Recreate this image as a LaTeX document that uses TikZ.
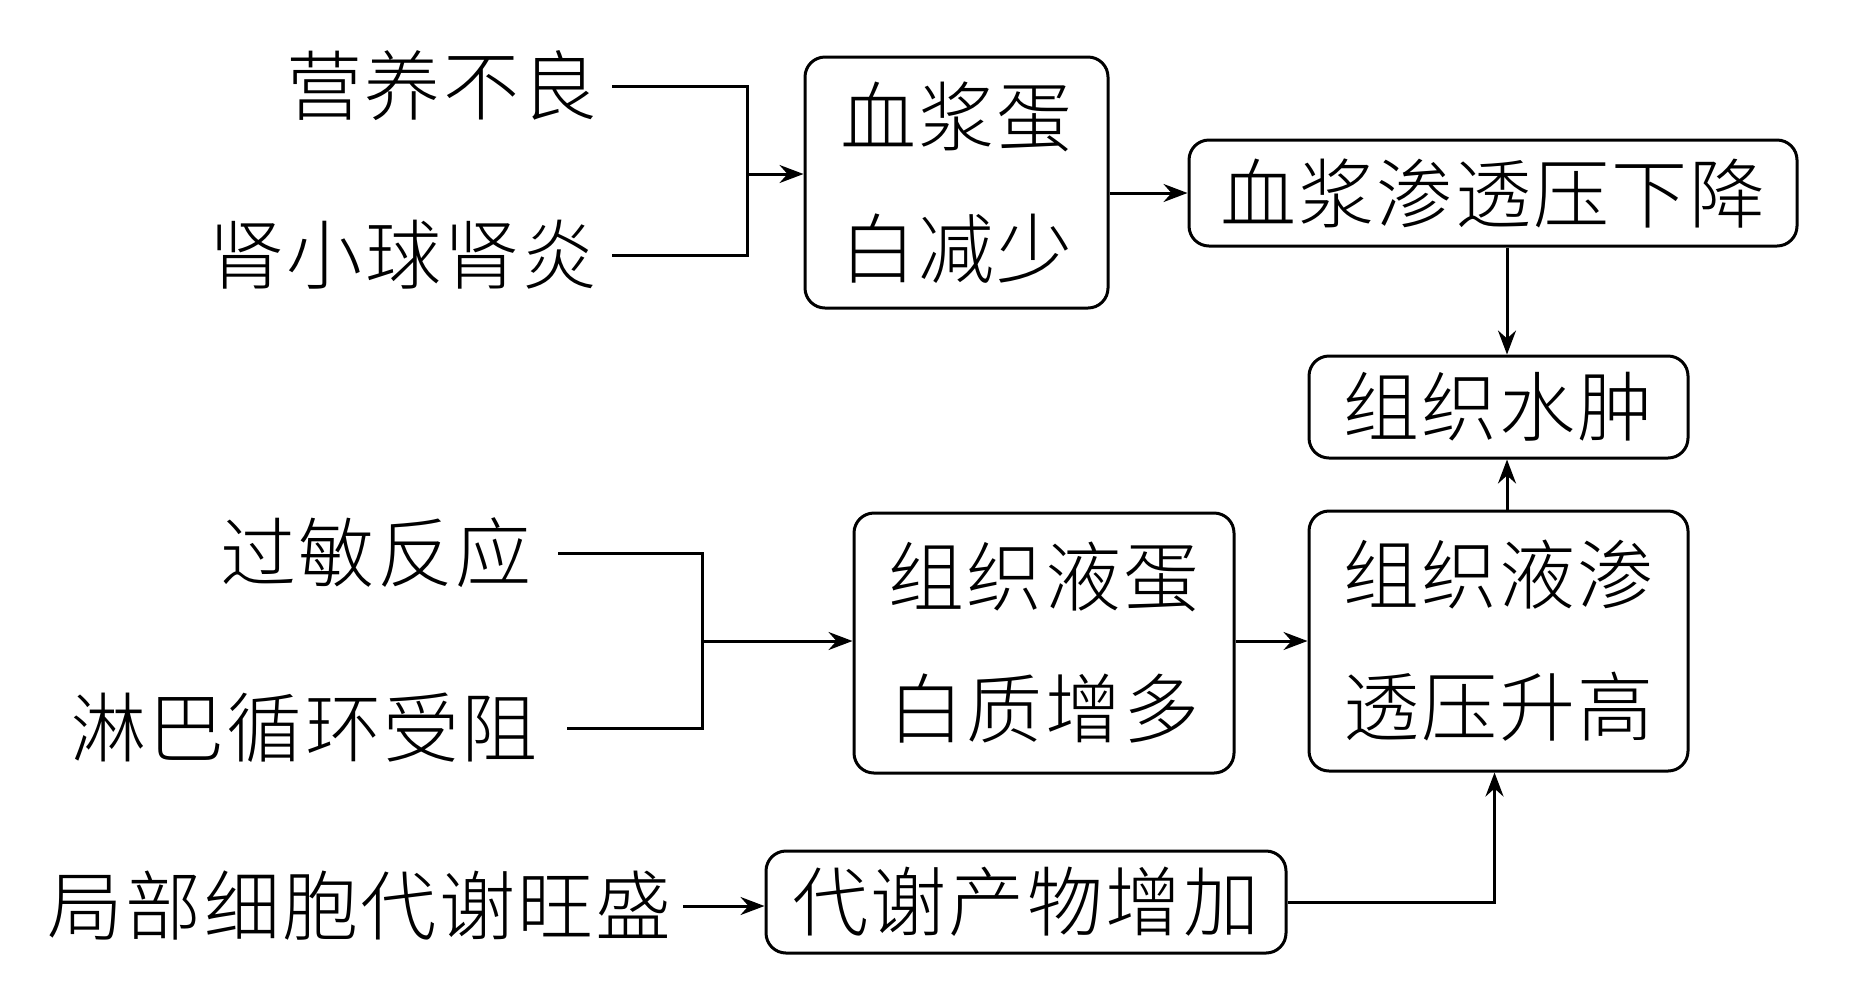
\documentclass[tikz,border=0pt]{standalone}
\usepackage{fontspec}
\setmainfont{Noto Sans CJK SC}[UprightFont=* Light]
\usetikzlibrary{arrows.meta}
\begin{document}
\begin{tikzpicture}[x=0.5pt,y=-0.5pt,
  box/.style={draw,line width=1.5pt,rounded corners=10pt,inner sep=0pt,align=center,font=\fontsize{38}{66}\selectfont\addfontfeature{LetterSpace=3}},
  lbl/.style={inner sep=0pt,anchor=east,font=\fontsize{38}{47}\selectfont\addfontfeature{LetterSpace=3}},
  conn/.style={line width=1.5pt},
  arr/.style={conn,-{Stealth[length=12pt,width=9pt,inset=4pt]}}]
\useasboundingbox[fill=white] (0,0) rectangle (1862,987);
% boxes
\node[box,minimum width=151.5pt,minimum height=125.5pt] (b1) at (956.5,182.5) {血浆蛋\\白减少};
\node[box,minimum width=304pt,minimum height=53pt] (b2) at (1493,193) {血浆渗透压下降};
\node[box,minimum width=189.5pt,minimum height=51pt] (b3) at (1498.5,407) {组织水肿};
\node[box,minimum width=189.5pt,minimum height=130pt] (b4) at (1498.5,641) {组织液渗\\透压升高};
\node[box,minimum width=190pt,minimum height=130pt] (b5) at (1044,643) {组织液蛋\\白质增多};
\node[box,minimum width=260pt,minimum height=51pt] (b6) at (1026,902) {代谢产物增加};
% labels
\node[lbl] (t1) at (598,86) {营养不良};
\node[lbl] (t2) at (598,255) {肾小球肾炎};
\node[lbl] (t3) at (532,553) {过敏反应};
\node[lbl] (t4) at (538,728) {淋巴循环受阻};
\node[lbl] (t5) at (672,906) {局部细胞代谢旺盛};
% junctions
\coordinate (j1) at (747,174);
\coordinate (j2) at (702,641);
\coordinate (ax) at (1507,0);
% connectors
\draw[conn] ([xshift=7pt]t1.east) -| (j1) |- ([xshift=7pt]t2.east);
\draw[arr] (j1) -- (j1 -| b1.west);
\draw[arr] (b1.east |- b2.west) -- (b2.west);
\draw[arr] (b2.south -| ax) -- (b3.north -| ax);
\draw[arr] (b4.north -| ax) -- (b3.south -| ax);
\draw[conn] ([xshift=13pt]t3.east) -| (j2) |- ([xshift=14.5pt]t4.east);
\draw[arr] (j2) -- (j2 -| b5.west);
\draw[arr] (b5.east |- b4.west) -- (b4.west);
\draw[arr] ([xshift=5.5pt]t5.east) -- (b6.west |- t5.east);
\draw[arr] (b6.east) -| ([xshift=-2pt]b4.south);
\end{tikzpicture}
\end{document}
